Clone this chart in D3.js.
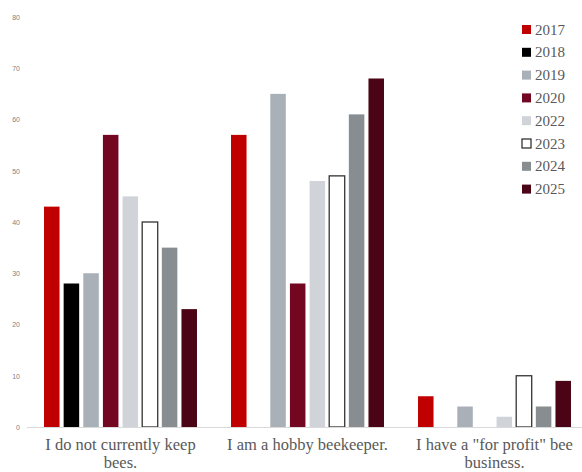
<!DOCTYPE html>
<html>
<head>
<meta charset="utf-8">
<script src="https://cdn.jsdelivr.net/npm/d3@7"></script>
<style>
  body { margin: 0; background: #fff; }
  text { font-family: "Liberation Serif", "DejaVu Serif", serif; }
</style>
</head>
<body>
<svg id="chart" width="582" height="472"></svg>
<script>
// answers and survey years
var categories = ["I do not currently keep bees.", "I am a hobby beekeeper.", "I have a \"for profit\" bee business."];
var years = ["2017", "2018", "2019", "2020", "2022", "2023", "2024", "2025"];

// percent per year, same order as categories
var v2017 = [43, 57, 6];
var v2018 = [28, 0, 0];
var v2019 = [30, 65, 4];
var v2020 = [57, 28, 0];
var v2022 = [45, 48, 2];
var v2023 = [40, 49, 10];
var v2024 = [35, 61, 4];
var v2025 = [23, 68, 9];

var yTicks = [0, 10, 20, 30, 40, 50, 60, 70, 80];

var seriesValues = [v2017, v2018, v2019, v2020, v2022, v2023, v2024, v2025];
var colors = ["#c00000", "#000000", "#a9b0b7", "#730620", "#d0d4d8", "#ffffff", "#878d90", "#4b0415"];

var svg = d3.select("#chart"),
  width = +svg.attr("width"),
  height = +svg.attr("height");

var plotLeft = 27, plotRight = 588, plotTop = 17, plotBottom = 427;

// scales
var x0 = d3.scaleBand()
  .domain(categories)
  .range([plotLeft, plotRight])
  .paddingInner(0.182)
  .paddingOuter(0.091);

var x1 = d3.scaleBand()
  .domain(years)
  .range([0, x0.bandwidth()])
  .paddingInner(0.21)
  .paddingOuter(0);

var y = d3.scaleLinear().domain([0, 80]).range([plotBottom, plotTop]);

// y axis, labels only
var yAxis = svg.append("g")
  .attr("transform", "translate(20,0)")
  .call(d3.axisLeft(y).tickValues(yTicks).tickSize(0).tickPadding(0));
yAxis.select(".domain").remove();
yAxis.selectAll("text")
  .style("font-family", "'Liberation Sans', Arial, sans-serif")
  .style("font-size", "7px")
  .attr("fill", "#7f7f7f");

// bars
var rows = [];
categories.forEach(function (c, ci) {
  years.forEach(function (yr, yi) {
    rows.push({ cat: c, year: yr, yi: yi, value: seriesValues[yi][ci] });
  });
});

svg.append("g")
  .selectAll("rect")
  .data(rows.filter(function (d) { return d.value > 0; }))
  .join("rect")
  .attr("x", function (d) { return x0(d.cat) + x1(d.year); })
  .attr("y", function (d) { return y(d.value); })
  .attr("width", x1.bandwidth())
  .attr("height", function (d) { return y(0) - y(d.value); })
  .attr("fill", function (d) { return colors[d.yi]; })
  .attr("stroke", function (d) { return d.year == "2023" ? "#333333" : "none"; })
  .attr("stroke-width", 1.3);

// baseline
svg.append("line")
  .attr("x1", plotLeft).attr("x2", width)
  .attr("y1", y(0) + 0.5).attr("y2", y(0) + 0.5)
  .attr("stroke", "#d9d9d9")
  .attr("stroke-width", 1);

// category labels, wrapped
var xLabels = svg.append("g")
  .selectAll("text")
  .data(categories)
  .join("text")
  .attr("x", function (d) { return x0(d) + x0.bandwidth() / 2; })
  .attr("y", 450)
  .attr("text-anchor", "middle")
  .attr("fill", "#595959")
  .style("font-size", "16.5px");

xLabels.each(function (d) {
  var t = d3.select(this);
  var words = d.split(" "), line = [];
  var tspan = t.append("tspan").attr("x", t.attr("x")).attr("dy", 0);
  words.forEach(function (w) {
    line.push(w);
    tspan.text(line.join(" "));
    if (tspan.node().getComputedTextLength() > x0.step() * 0.9 && line.length > 1) {
      line.pop();
      tspan.text(line.join(" "));
      line = [w];
      tspan = t.append("tspan").attr("x", t.attr("x")).attr("dy", 18).text(w);
    }
  });
});

// legend
var legend = svg.append("g")
  .selectAll("g")
  .data(years)
  .join("g")
  .attr("transform", function (d, i) { return "translate(522," + (25 + i * 22.8) + ")"; });

legend.append("rect")
  .attr("width", 9)
  .attr("height", 9)
  .attr("fill", function (d, i) { return colors[i]; })
  .attr("stroke", function (d) { return d == "2023" ? "#222" : "none"; })
  .attr("stroke-width", 1.2);

legend.append("text")
  .attr("x", 13)
  .attr("y", 9.5)
  .attr("fill", "#595959")
  .style("font-size", "15px")
  .text(function (d) { return d; });
</script>
</body>
</html>
